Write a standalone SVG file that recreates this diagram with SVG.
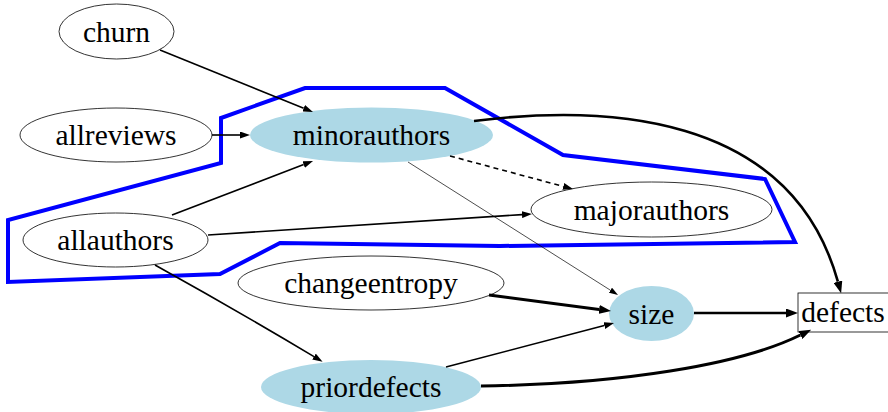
<svg xmlns="http://www.w3.org/2000/svg" width="888" height="412" viewBox="0 0 888 412">
<style>
.n{fill:#fff;stroke:#000;stroke-width:0.8}
.f{fill:#add8e6;stroke:none}
text{font-family:"Liberation Serif","Times New Roman",serif;font-size:29.5px;text-anchor:middle;fill:#000}
.e{fill:none;stroke:#000;stroke-width:1.6}
.t{stroke-width:3}
.m{stroke-width:2.6}
.h{stroke-width:0.7}
</style>
<defs>
<marker id="a" viewBox="0 0 10 7" refX="0" refY="3.5" markerWidth="10" markerHeight="7" markerUnits="userSpaceOnUse" orient="auto"><path d="M0,0L10,3.5L0,7z"/></marker>
<marker id="b" viewBox="0 0 12 9" refX="0" refY="4.5" markerWidth="12" markerHeight="9" markerUnits="userSpaceOnUse" orient="auto"><path d="M0,0L12,4.5L0,9z"/></marker>
<marker id="s" viewBox="0 0 9 6" refX="0" refY="3" markerWidth="9" markerHeight="6" markerUnits="userSpaceOnUse" orient="auto"><path d="M0,0L9,3L0,6z"/></marker>
</defs>
<g id="cluster">
<polygon points="8,220 8,282 220,274 280,243 500,246 795,242 765,179 563,155 445,88 305,88 221,118 221,163" fill="none" stroke="#0000ff" stroke-width="4"/>
</g>
<g id="churn"><ellipse class="n" cx="116.5" cy="31.5" rx="57.5" ry="27.5"/><text x="116.5" y="41.5">churn</text></g>
<g id="allreviews"><ellipse class="n" cx="116" cy="135" rx="96" ry="27"/><text x="116" y="145">allreviews</text></g>
<g id="minorauthors"><ellipse class="f" cx="371.5" cy="135" rx="121.5" ry="27.5"/><text x="371.5" y="145">minorauthors</text></g>
<g id="allauthors"><ellipse class="n" cx="115.5" cy="240" rx="92.5" ry="27"/><text x="115.5" y="250">allauthors</text></g>
<g id="majorauthors"><ellipse class="n" cx="651.5" cy="209.5" rx="120.5" ry="27.5"/><text x="651.5" y="219.5">majorauthors</text></g>
<g id="changeentropy"><ellipse class="n" cx="371" cy="283" rx="133" ry="27"/><text x="371" y="293">changeentropy</text></g>
<g id="size"><ellipse class="f" cx="651.5" cy="313.5" rx="42.5" ry="27.5"/><text x="651.5" y="323.5">size</text></g>
<g id="priordefects"><ellipse class="f" cx="371" cy="387" rx="110" ry="27"/><text x="371" y="397">priordefects</text></g>
<g id="defects"><rect class="n" x="798" y="293" width="92" height="39"/><text x="843" y="322">defects</text></g>
<g id="edges">
<path class="e" d="M160,50L303.7,108.2" marker-end="url(#a)"/>
<path class="e" d="M212,135L240,135" marker-end="url(#a)"/>
<path class="e" d="M172,215L303.7,164.6" marker-end="url(#a)"/>
<path class="e" d="M208,235L522,214.6" marker-end="url(#a)"/>
<path class="e" d="M450,156L563.3,186.4" stroke-dasharray="5,4" marker-end="url(#a)"/>
<path class="e h" d="M408,162L610.4,290.2" marker-end="url(#s)"/>
<path class="e" d="M155,265Q236,310 314,356.6" marker-end="url(#a)"/>
<path class="e t" d="M489,295L599.1,309.4" marker-end="url(#b)"/>
<path class="e" d="M446,367L604.3,325.5" marker-end="url(#a)"/>
<path class="e m" d="M694,313L786,313" marker-end="url(#b)"/>
<path class="e t" d="M481,386C620,384 740,365 800.4,335" marker-end="url(#b)"/>
<path class="e m" d="M474,121C600,105 790,110 837.9,281.7" marker-end="url(#b)"/>
</g>
</svg>
